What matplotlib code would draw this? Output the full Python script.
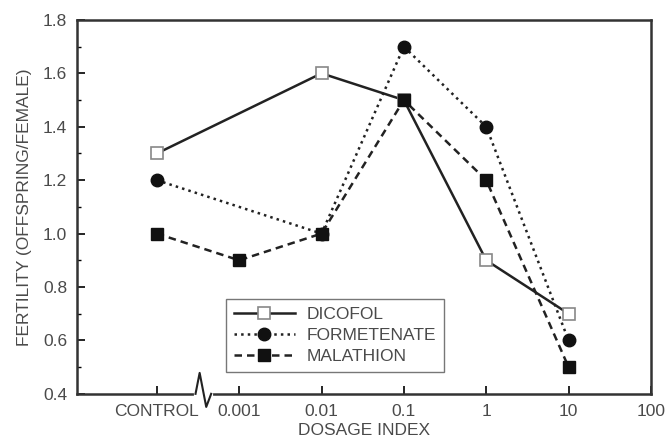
import numpy as np
import matplotlib.pyplot as plt

# categorias del eje x (indice de dosis)
dosis = ['CONTROL', '0.001', '0.01', '0.1', '1', '10', '100']

# valores de fertilidad por insecticida (None = sin dato)
dicofol = [1.3, None, 1.6, 1.5, 0.9, 0.7]
formetenate = [1.2, None, 1.0, 1.7, 1.4, 0.6]
malathion = [1.0, 0.9, 1.0, 1.5, 1.2, 0.5]

plt.rcParams['font.family'] = ['Liberation Sans', 'DejaVu Sans']
gris = '#4a4a4a'
fs = 12.5

fig = plt.figure(figsize=(6.69, 4.43), dpi=100)
ax = fig.add_axes([0.115, 0.111, 0.858, 0.844])


def serie(vals):
    x = [i for i, v in enumerate(vals) if v is not None]
    y = [v for v in vals if v is not None]
    return np.array(x), np.array(y)


x, y = serie(dicofol)
ax.plot(x, y, '-', color='#222222', lw=1.8, marker='s', ms=8,
        mfc='white', mec='#888888', mew=1.2, label='DICOFOL')
x, y = serie(formetenate)
ax.plot(x, y, ':', color='#222222', lw=1.8, marker='o', ms=9,
        mfc='#111111', mec='#111111', label='FORMETENATE')
x, y = serie(malathion)
ax.plot(x, y, '--', color='#222222', lw=1.8, dashes=(3, 2), marker='s', ms=8,
        mfc='#111111', mec='#111111', label='MALATHION')

ax.set_xlim(-0.97, 6.0)
ax.set_ylim(0.4, 1.8)
ax.set_xticks(range(len(dosis)))
ax.set_xticklabels(dosis)
ax.set_yticks(np.arange(0.4, 1.81, 0.2))
ax.set_yticks(np.arange(0.4, 1.81, 0.1), minor=True)
ax.yaxis.set_major_formatter(plt.FormatStrFormatter('%.1f'))
ax.tick_params(direction='in', length=6, width=1.2, labelsize=fs,
               labelcolor=gris, pad=7)
ax.tick_params(which='minor', direction='in', length=3, width=1.0)
for s in ax.spines.values():
    s.set_linewidth(1.8)
    s.set_color('#333333')

ax.set_xlabel('DOSAGE INDEX', fontsize=fs, color=gris, labelpad=3)
ax.set_ylabel('FERTILITY (OFFSPRING/FEMALE)', fontsize=fs, color=gris, labelpad=8)

# marca de corte del eje x
tr = ax.get_xaxis_transform()
ax.plot([0.47, 0.66], [0, 0], color='white', lw=3, transform=tr, clip_on=False, zorder=5)
ax.plot([0.47, 0.52, 0.6, 0.66], [0, 0.056, -0.035, 0], color='#222222', lw=1.5,
        transform=tr, clip_on=False, zorder=6)

leg = ax.legend(loc='lower left', bbox_to_anchor=(0.26, 0.058), fontsize=fs,
                handlelength=3.5, frameon=True, fancybox=False, borderpad=0.45,
                labelspacing=0.35, handletextpad=0.7, borderaxespad=0)
leg.get_frame().set_edgecolor('#555555')
leg.get_frame().set_linewidth(1.0)
for t in leg.get_texts():
    t.set_color(gris)

fig.savefig('out.png', dpi=100)
